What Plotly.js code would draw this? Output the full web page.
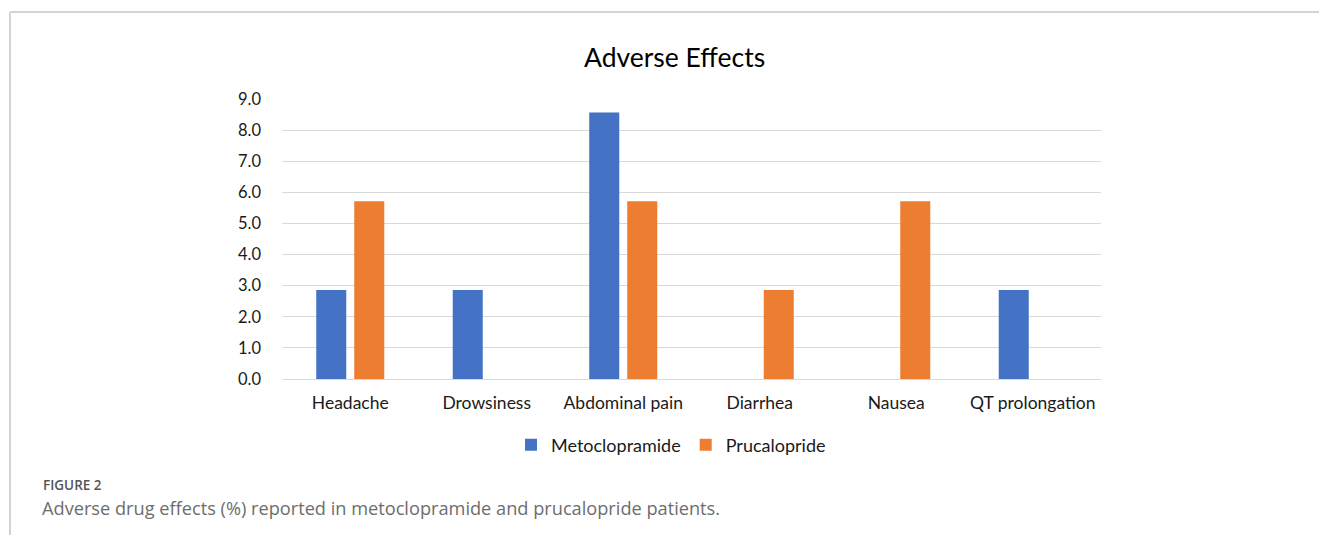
<!DOCTYPE html>
<html>
<head>
<meta charset="utf-8">
<script src="https://cdn.plot.ly/plotly-3.0.1.min.js"></script>
<style>html,body{margin:0;padding:0;background:#fff;}#chart{width:1319px;height:535px;}</style>
</head>
<body>
<div id="chart"></div>
<script>
const categories = ["Headache", "Drowsiness", "Abdominal pain", "Diarrhea", "Nausea", "QT prolongation"];
const metoclopramide = [2.86, 2.86, 8.57, 0, 0, 2.86];
const prucalopride = [5.71, 0, 5.71, 2.86, 5.71, 0];
const yTicks = [0, 1, 2, 3, 4, 5, 6, 7, 8, 9];

const chartFont = "Lato, 'Noto Sans', sans-serif";
const capFont = "'Open Sans', 'Noto Sans', sans-serif";
const W = 1319, H = 535, L = 282, R = 218, T = 99, B = 156;
const pw = W - L - R, ph = H - T - B;
const px = x => (x - L) / pw;
const py = y => (H - B - y) / ph;

const traces = [
  {type: "bar", name: "Metoclopramide", x: categories, y: metoclopramide, marker: {color: "#4472C4"}, hoverinfo: "x+y"},
  {type: "bar", name: "Prucalopride", x: categories, y: prucalopride, marker: {color: "#ED7D31"}, hoverinfo: "x+y"}
];

const layout = {
  width: W, height: H,
  margin: {l: L, r: R, t: T, b: B, pad: 0},
  paper_bgcolor: "#fff", plot_bgcolor: "#fff",
  font: {family: chartFont, size: 16, color: "#1a1a1a"},
  barmode: "group", bargap: 0.443, bargroupgap: 0.21,
  showlegend: true,
  legend: {orientation: "h", x: px(671), xanchor: "center", y: py(445), yanchor: "middle",
           font: {family: chartFont, size: 18, color: "#1a1a1a"}, itemwidth: 30, traceorder: "normal"},
  xaxis: {type: "category", showline: false, showgrid: false, zeroline: false, ticks: "",
          ticklabelstandoff: 11, tickfont: {family: chartFont, size: 17.5, color: "#1a1a1a"}, fixedrange: true},
  yaxis: {range: [0, 9], tickvals: yTicks, tickformat: ".1f", showgrid: true, gridcolor: "#d9d9d9", gridwidth: 1,
          zeroline: true, zerolinecolor: "#d9d9d9", zerolinewidth: 1, showline: false, ticks: "",
          ticklabelstandoff: 20, tickfont: {family: chartFont, size: 16.5, color: "#1a1a1a"}, fixedrange: true},
  annotations: [
    {text: "Adverse Effects", xref: "paper", yref: "paper", x: px(674), y: py(57), xanchor: "center", yanchor: "middle",
     showarrow: false, font: {family: chartFont, size: 26.5, color: "#000"}},
    {text: "FIGURE 2", xref: "paper", yref: "paper", x: px(41), y: py(485), xanchor: "left", yanchor: "middle",
     showarrow: false, font: {family: capFont, size: 13.5, color: "#555", weight: 600}},
    {text: "Adverse drug effects (%) reported in metoclopramide and prucalopride patients.", xref: "paper", yref: "paper",
     x: px(40), y: py(508), xanchor: "left", yanchor: "middle",
     showarrow: false, font: {family: capFont, size: 18.2, color: "#6d6d6d"}}
  ],
  shapes: [
    {type: "line", xref: "paper", yref: "paper", x0: px(10), x1: px(1319), y0: py(12), y1: py(12), line: {color: "#d4d4d4", width: 2}},
    {type: "line", xref: "paper", yref: "paper", x0: px(10), x1: px(10), y0: py(12), y1: py(535), line: {color: "#d4d4d4", width: 2}}
  ]
};

Plotly.newPlot("chart", traces, layout, {displayModeBar: false, staticPlot: true});
</script>
</body>
</html>
